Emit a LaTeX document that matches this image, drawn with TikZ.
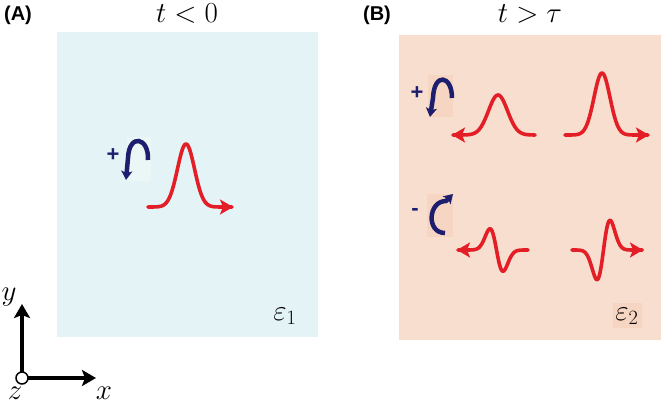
\RequirePackage{fix-cm}
\documentclass[tikz,border=0pt]{standalone}
\usepackage{fontspec}
\newfontfamily\labfont{Liberation Sans}
\usetikzlibrary{arrows.meta}
\definecolor{panelA}{HTML}{E4F3F5}
\definecolor{panelB}{HTML}{F8DECF}
\definecolor{boxA}{HTML}{EBF6F7}
\definecolor{boxB}{HTML}{F6D6C2}
\definecolor{pulse}{HTML}{E31E26}
\definecolor{navy}{HTML}{1E1E6E}
\tikzset{
  panellabel/.style={font=\labfont\bfseries\fontsize{20}{24}\selectfont, inner sep=0pt},
  mathlabel/.style={font=\fontsize{29}{34}\selectfont, inner sep=0pt},
  signlabel/.style={font=\labfont\bfseries\fontsize{22}{24}\selectfont, text=navy, inner sep=0pt},
  pulseline/.style={draw=pulse, line width=3.6pt, line cap=round, line join=round, -{Stealth[length=13pt,width=15pt,inset=3pt]}},
  curl/.style={draw=navy, line width=4.5pt, -{Stealth[length=9pt,width=11pt,inset=2pt]}},
  axisline/.style={draw=black, line width=4pt, -{Stealth[length=14pt,width=16pt,inset=3pt]}}
}
\begin{document}
\begin{tikzpicture}[x=1pt,y=-1pt]
\useasboundingbox (0,0) rectangle (661,406);
% panels
\fill[panelA] (57,32) rectangle (318,337);
\fill[panelB] (399,35) rectangle (661,340);
% titles
\node[panellabel] (labA) at (18,15) {(A)};
\node[panellabel] (labB) at (377,15) {(B)};
\node[mathlabel, anchor=base] (tA) at (187,23) {$t<0$};
\node[mathlabel, anchor=base] (tB) at (530,23) {$t>\tau$};
% epsilon labels
\node[mathlabel] (eps1) at (285,316) {$\varepsilon_1$};
\fill[boxB] (613,303) rectangle (642,328);
\node[mathlabel] (eps2) at (627,316) {$\varepsilon_2$};
% panel A: curl and pulse
\fill[boxA] (127,137) rectangle (151,181);
\node[signlabel] (plusA) at (113,155) {+};
\draw[curl] (148,160) .. controls (149,137) and (129,133) .. (128,158) -- (126,180);
\draw[pulseline] plot[domain=148:233, samples=90] (\x, {207-63*exp(-0.5*((\x-186)/8.5)^2)});
% panel B: + curl and pulses
\fill[boxB] (428,75) rectangle (453,117);
\node[signlabel] (plusB) at (417,93) {+};
\draw[curl] (452,98) .. controls (452,75) and (434,72) .. (433,98) -- (430,117);
\draw[pulseline] plot[domain=535:452, samples=90] (\x, {135-40*exp(-0.5*((\x-498)/9.5)^2)});
\draw[pulseline] plot[domain=565:649, samples=90] (\x, {135-62*exp(-0.5*((\x-602)/8)^2)});
% panel B: - curl and odd pulses
\fill[boxB] (427,194) rectangle (453,237);
\node[signlabel] (minusB) at (415,212) {-};
\draw[curl] (445,233) .. controls (426,233) and (428,201) .. (446,201) -- (453,194);
\draw[pulseline] plot[domain=528:457, samples=90] (\x, {250+35*((\x-496.5)/6.5)*exp(-0.5*((\x-496.5)/6.5)^2)});
\draw[pulseline] plot[domain=572:643, samples=90] (\x, {250-49*((\x-603.5)/6.5)*exp(-0.5*((\x-603.5)/6.5)^2)});
% axes
\coordinate (O) at (22,378);
\coordinate (Yt) at (22,304);
\coordinate (Xt) at (96,378);
\draw[axisline] (O) -- (Yt);
\draw[axisline] (O) -- (Xt);
\draw[black, line width=1.5pt, fill=white] (O) circle[radius=6];
\node[mathlabel] (ylab) at (9,297) {$y$};
\node[mathlabel] (xlab) at (104,393) {$x$};
\node[mathlabel] (zlab) at (15,393) {$z$};
\end{tikzpicture}
\end{document}
